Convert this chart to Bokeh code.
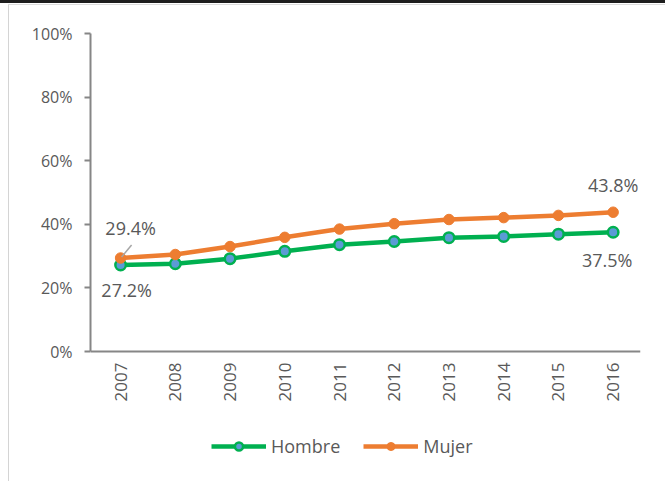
import math
from bokeh.plotting import figure
from bokeh.models import (Range1d, FixedTicker, PrintfTickFormatter, Legend,
                          LegendItem, ColumnDataSource, Span)
from bokeh.embed import file_html
from bokeh.resources import INLINE
from bokeh.core.properties import value

years = [2007, 2008, 2009, 2010, 2011, 2012, 2013, 2014, 2015, 2016]
hombre = [27.2, 27.6, 29.2, 31.5, 33.6, 34.6, 35.8, 36.2, 36.9, 37.5]
mujer = [29.4, 30.5, 33.0, 35.9, 38.5, 40.2, 41.5, 42.1, 42.8, 43.8]
y_ticks = [0, 20, 40, 60, 80, 100]

GREEN = "#00B050"
ORANGE = "#ED7D31"
BLUE = "#5B9BD5"
AXIS = "#868686"
TXT = "#595959"
FONT = "Open Sans"

W, H = 665, 481
TOP, LEFT, RIGHT_EDGE, ZERO_PX = 33, 90, 640, 351
y_start = -(H - ZERO_PX) * 100.0 / (ZERO_PX - TOP)

frame_css = ("linear-gradient(#1e1e1e,#1e1e1e) 0 0/100% 3px no-repeat, "
             "linear-gradient(#dcdcdc,#dcdcdc) 8px 4px/100% 1px no-repeat, "
             "linear-gradient(#d4d4d4,#d4d4d4) 8px 4px/1px 100% no-repeat, "
             "white")

p = figure(width=W, height=H, output_backend="svg", toolbar_location=None,
           x_range=Range1d(2006.45, 2016.5), y_range=Range1d(y_start, 100),
           x_axis_location=None,
           min_border_left=LEFT, min_border_right=W - RIGHT_EDGE,
           min_border_top=TOP, min_border_bottom=0,
           background_fill_alpha=0, border_fill_alpha=0,
           styles={"background": frame_css})
p.outline_line_color = None
p.grid.grid_line_color = None

# y axis, drawn only over 0..100
p.yaxis.bounds = (0, 100)
p.yaxis.ticker = FixedTicker(ticks=y_ticks)
p.yaxis.formatter = PrintfTickFormatter(format="%d%%")
p.yaxis.major_tick_out = 6
p.yaxis.major_tick_in = 0
p.yaxis.minor_tick_line_color = None
p.yaxis.axis_line_color = AXIS
p.yaxis.axis_line_width = 2
p.yaxis.major_tick_line_color = AXIS
p.yaxis.major_tick_line_width = 2
p.yaxis.major_label_text_font = FONT
p.yaxis.major_label_text_font_size = "16px"
p.yaxis.major_label_text_color = TXT
p.yaxis.major_label_standoff = 12

# category (x) axis line at y = 0 with vertical year labels
p.add_layout(Span(location=0, dimension="width", line_color=AXIS,
                  line_width=2))
ysrc = ColumnDataSource(dict(x=years, y=[0] * len(years),
                             t=[str(v) for v in years]))
p.text("x", "y", text="t", source=ysrc, angle=math.pi / 2,
       y_offset=11, text_align="right", text_baseline="middle",
       text_font=value(FONT), text_font_size="17px", text_color=TXT)

src = ColumnDataSource(dict(x=years, h=hombre, m=mujer))
lh = p.line("x", "h", source=src, line_color=GREEN, line_width=4.5)
sh = p.scatter("x", "h", source=src, size=10.5, fill_color=BLUE,
               line_color=GREEN, line_width=2.5)
lm = p.line("x", "m", source=src, line_color=ORANGE, line_width=4.5)
sm = p.scatter("x", "m", source=src, size=10.5, fill_color=ORANGE,
               line_color=ORANGE, line_width=1)

# data labels on first and last points
lab_x = [years[0], years[0], years[-1], years[-1]]
lab_y = [mujer[0], hombre[0], mujer[-1], hombre[-1]]
lab_t = ["%.1f%%" % v for v in lab_y]
lab_dx = [10, 6, 0, -6]
lab_dy = [-30, 25, -27, 28]
lsrc = ColumnDataSource(dict(x=lab_x, y=lab_y, t=lab_t, dx=lab_dx, dy=lab_dy))
p.text("x", "y", text="t", source=lsrc, x_offset="dx", y_offset="dy",
       text_align="center", text_baseline="middle",
       text_font=value(FONT), text_font_size="18px", text_color=TXT)

# leader line for first Mujer label (pixel offsets converted to data units)
px_x = (2016.5 - 2006.45) / (RIGHT_EDGE - LEFT)
px_y = 100.0 / (ZERO_PX - TOP)
p.segment(x0=[years[0] + 11 * px_x], y0=[mujer[0] + 13 * px_y],
          x1=[years[0] + 1 * px_x], y1=[mujer[0] + 1 * px_y],
          line_color="#A6A6A6", line_width=1.5)

legend = Legend(items=[LegendItem(label="Hombre", renderers=[lh, sh]),
                       LegendItem(label="Mujer", renderers=[lm, sm])],
                orientation="horizontal", location=(121, 23),
                glyph_width=55, glyph_height=20, label_standoff=5,
                spacing=23, padding=5, margin=0, label_text_font=FONT,
                label_text_font_size="18px", label_text_color=TXT,
                border_line_color=None, background_fill_alpha=0)
p.add_layout(legend)

open("out.html", "w").write(file_html(p, INLINE))
